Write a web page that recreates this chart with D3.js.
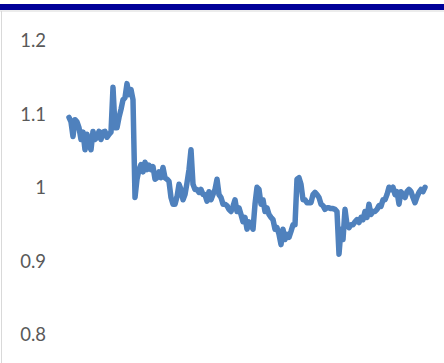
<!DOCTYPE html>
<html>
<head>
<meta charset="utf-8">
<script src="https://d3js.org/d3.v7.min.js"></script>
<style>
  body { margin: 0; background: #fff; }
  svg { display: block; }
</style>
</head>
<body>
<svg id="chart" width="444" height="363"></svg>
<script>
// series values, one per trading step
var values = [
  1.096, 1.090, 1.070, 1.093, 1.090, 1.082, 1.066, 1.076, 1.052, 1.073,
  1.059, 1.052, 1.077, 1.066, 1.069, 1.077, 1.066, 1.076, 1.077, 1.069,
  1.073, 1.076, 1.137, 1.082, 1.082, 1.096, 1.107, 1.120, 1.123, 1.142,
  1.127, 1.134, 1.120, 0.987, 1.012, 1.025, 1.032, 1.022, 1.035, 1.025,
  1.031, 1.025, 1.029, 1.012, 1.014, 1.022, 1.014, 1.028, 1.014, 1.012,
  1.009, 0.987, 0.978, 0.978, 0.988, 1.005, 0.998, 0.984, 0.991, 1.007,
  1.025, 1.052, 1.005, 0.998, 0.998, 0.994, 0.998, 0.991, 0.991, 0.982,
  0.995, 0.984, 0.991, 0.998, 1.012, 0.991, 0.987, 0.978, 0.978, 0.976,
  0.971, 0.968, 0.975, 0.984, 0.968, 0.973, 0.964, 0.954, 0.960, 0.944,
  0.954, 0.950, 0.944, 0.978, 1.001, 0.998, 0.978, 0.984, 0.968, 0.973,
  0.964, 0.960, 0.957, 0.944, 0.946, 0.937, 0.923, 0.944, 0.930, 0.937,
  0.933, 0.941, 0.950, 0.950, 1.012, 1.014, 1.005, 0.984, 0.984, 0.980,
  0.980, 0.980, 0.991, 0.994, 0.991, 0.987, 0.978, 0.976, 0.971, 0.973,
  0.973, 0.972, 0.972, 0.971, 0.968, 0.910, 0.944, 0.930, 0.971, 0.950,
  0.946, 0.950, 0.950, 0.954, 0.957, 0.953, 0.960, 0.957, 0.968, 0.960,
  0.978, 0.964, 0.968, 0.968, 0.971, 0.976, 0.975, 0.984, 0.984, 0.991,
  1.001, 0.998, 1.001, 0.991, 0.995, 0.978, 0.995, 0.991, 0.987, 0.995,
  0.998, 0.995, 0.987, 0.980, 0.988, 0.994, 0.998, 0.995, 1.001
];
var yTicks = [0.8, 0.9, 1.0, 1.1, 1.2];
var yTickLabels = ["0.8", "0.9", "1", "1.1", "1.2"];

var svg = d3.select("#chart");

// frame: navy band on top, thin grey rules
svg.append("rect").attr("x", 0).attr("y", 4).attr("width", 444).attr("height", 6).attr("fill", "#000099");
svg.append("line").attr("x1", 0).attr("x2", 444).attr("y1", 11).attr("y2", 11)
  .attr("stroke", "#d9d9d9").attr("stroke-width", 1);
svg.append("line").attr("x1", 1.5).attr("x2", 1.5).attr("y1", 11).attr("y2", 363)
  .attr("stroke", "#d9d9d9").attr("stroke-width", 1);

var sx = d3.scaleLinear().domain([0, values.length - 1]).range([69, 425]);
var sy = d3.scaleLinear().domain([0.8, 1.2]).range([335, 41]);

var yAxis = svg.append("g")
  .attr("transform", "translate(46,0)")
  .call(d3.axisLeft(sy).tickValues(yTicks).tickSize(0).tickPadding(0)
    .tickFormat(function (d, i) { return yTickLabels[i]; }));
yAxis.select(".domain").remove();
yAxis.selectAll("text")
  .attr("font-family", "Lato, 'Open Sans', sans-serif")
  .attr("font-size", 18.5)
  .attr("fill", "#595959");

var line = d3.line()
  .x(function (d, i) { return sx(i); })
  .y(function (d) { return sy(d); });

svg.append("path")
  .datum(values)
  .attr("d", line)
  .attr("fill", "none")
  .attr("stroke", "#4f81bd")
  .attr("stroke-width", 5.5)
  .attr("stroke-linejoin", "round")
  .attr("stroke-linecap", "round");
</script>
</body>
</html>
